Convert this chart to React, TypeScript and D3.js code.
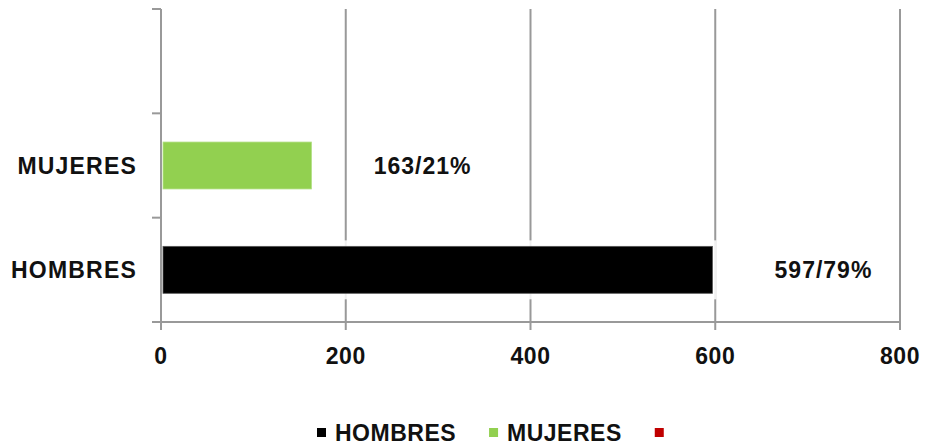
import React, { useEffect, useRef } from 'react';
import * as d3 from 'd3';

// top to bottom; the first band is left empty in the original
const categories = ['', 'MUJERES', 'HOMBRES'];
const values = [null, 163, 597];
const barLabels = ['', '163/21%', '597/79%'];
const barColors = ['#c00000', '#92d050', '#000000'];
const xTicks = [0, 200, 400, 600, 800];
const legendNames = ['HOMBRES', 'MUJERES', ''];
const legendColors = ['#000000', '#92d050', '#c00000'];

const FONT = '"Liberation Sans", Arial, sans-serif';

const App = () => {
  const chartRef = useRef<SVGSVGElement | null>(null);

  useEffect(() => {
    if (!chartRef.current) return;
    const svg = d3.select(chartRef.current);
    svg.selectAll('*').remove();

    const width = 931;
    const height = 446;
    const margin = { top: 9, right: 31, bottom: 124, left: 161 };
    const innerW = width - margin.left - margin.right;
    const innerH = height - margin.top - margin.bottom;

    const g = svg.append('g')
      .attr('transform', `translate(${margin.left},${margin.top})`);

    const x = d3.scaleLinear().domain([0, 800]).range([0, innerW]);
    const y = d3.scaleBand().domain(categories).range([0, innerH]).paddingInner(0.55).paddingOuter(0.275);
    const step = y.step();

    // vertical gridlines
    g.selectAll('.grid')
      .data(xTicks.filter(d => d > 0))
      .enter()
      .append('line')
      .attr('x1', d => x(d))
      .attr('x2', d => x(d))
      .attr('y1', 0)
      .attr('y2', innerH)
      .attr('stroke', '#999')
      .attr('stroke-width', 2);

    const rows = categories.map((c, i) => ({ c, v: values[i], label: barLabels[i], color: barColors[i] }))
      .filter(d => d.v != null);

    // white halo behind the bars
    g.selectAll('.halo')
      .data(rows)
      .enter()
      .append('rect')
      .attr('x', 2)
      .attr('y', d => y(d.c)! - 6)
      .attr('width', d => x(d.v as number) - 2 + 4)
      .attr('height', y.bandwidth() + 12)
      .attr('fill', '#fff')
      .attr('opacity', 0.85);

    g.selectAll('.bar')
      .data(rows)
      .enter()
      .append('rect')
      .attr('x', 2)
      .attr('y', d => y(d.c)!)
      .attr('width', d => x(d.v as number) - 2)
      .attr('height', y.bandwidth())
      .attr('fill', d => d.color)
      .attr('stroke', d => d.color === '#000000' ? '#555' : '#b5e08a')
      .attr('stroke-width', 0.8);

    g.selectAll('.blabel')
      .data(rows)
      .enter()
      .append('text')
      .attr('x', d => x(d.v as number) + 111)
      .attr('y', d => y(d.c)! + y.bandwidth() / 2)
      .attr('dy', '0.35em')
      .attr('text-anchor', 'middle')
      .attr('font-family', FONT)
      .attr('font-weight', 'bold')
      .attr('font-size', 23)
      .attr('letter-spacing', 1)
      .attr('fill', '#111')
      .text(d => d.label);

    // left axis
    g.append('line')
      .attr('x1', 0).attr('x2', 0).attr('y1', 0).attr('y2', innerH)
      .attr('stroke', '#999').attr('stroke-width', 2);
    g.selectAll('.ytick')
      .data(d3.range(categories.length + 1))
      .enter()
      .append('line')
      .attr('x1', -9).attr('x2', 0)
      .attr('y1', i => i * step).attr('y2', i => i * step)
      .attr('stroke', '#999').attr('stroke-width', 2);
    g.selectAll('.ylabel')
      .data(categories)
      .enter()
      .append('text')
      .attr('x', -24)
      .attr('y', d => y(d)! + y.bandwidth() / 2)
      .attr('dy', '0.35em')
      .attr('text-anchor', 'end')
      .attr('font-family', FONT)
      .attr('font-weight', 'bold')
      .attr('font-size', 23)
      .attr('letter-spacing', 1.2)
      .attr('fill', '#111')
      .text(d => d);

    // bottom axis
    g.append('line')
      .attr('x1', -9).attr('x2', innerW).attr('y1', innerH).attr('y2', innerH)
      .attr('stroke', '#999').attr('stroke-width', 2);
    g.selectAll('.xtick')
      .data(xTicks)
      .enter()
      .append('line')
      .attr('x1', d => x(d)).attr('x2', d => x(d))
      .attr('y1', innerH).attr('y2', innerH + 8)
      .attr('stroke', '#999').attr('stroke-width', 2);
    g.selectAll('.xlabel')
      .data(xTicks)
      .enter()
      .append('text')
      .attr('x', d => x(d))
      .attr('y', innerH + 42)
      .attr('text-anchor', 'middle')
      .attr('font-family', FONT)
      .attr('font-weight', 'bold')
      .attr('font-size', 23)
      .attr('letter-spacing', 0.6)
      .attr('fill', '#111')
      .text(d => d);

    // legend
    const legend = svg.append('g').attr('transform', 'translate(317, 0)');
    let lx = 0;
    legendNames.forEach((name, i) => {
      legend.append('rect')
        .attr('x', lx)
        .attr('y', 428)
        .attr('width', 9)
        .attr('height', 9)
        .attr('fill', legendColors[i]);
      const t = legend.append('text')
        .attr('x', lx + 18)
        .attr('y', 441)
        .attr('font-family', FONT)
        .attr('font-weight', 'bold')
        .attr('font-size', 23)
        .attr('letter-spacing', 0.5)
        .attr('fill', '#111')
        .text(name);
      const w = (t.node() as SVGTextElement).getComputedTextLength();
      lx += 18 + w + 33;
    });
  }, []);

  return (
    <svg ref={chartRef} width={931} height={446} style={{ position: 'absolute', left: 0, top: 0, background: '#fff' }} />
  );
};

export default App;
